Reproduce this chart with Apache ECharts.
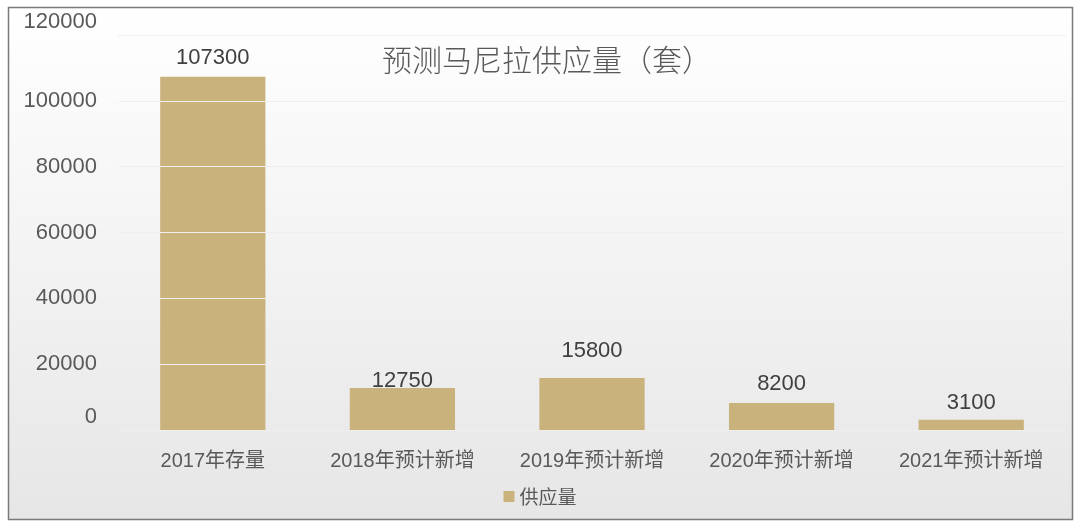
<!DOCTYPE html>
<html>
<head>
<meta charset="utf-8">
<script src="https://cdn.jsdelivr.net/npm/echarts@6/dist/echarts.min.js"></script>
<style>
html,body{margin:0;padding:0;background:#fff;}
#c{width:1080px;height:529px;}
</style>
</head>
<body>
<div id="c"></div>
<script>
const categories = ['2017年存量','2018年预计新增','2019年预计新增','2020年预计新增','2021年预计新增'];
const supplyValues = [107300, 12750, 15800, 8200, 3100];
const seriesName = '供应量';
const titleText = '预测马尼拉供应量（套）';
const yTicks = [0, 20000, 40000, 60000, 80000, 100000, 120000];

const labelShift = [0, 12, -8, 0, 2];

const chart = echarts.init(document.getElementById('c'));
chart.setOption({
  animation: false,
  backgroundColor: '#ffffff',
  graphic: [{
    type: 'rect',
    z: -10,
    silent: true,
    shape: {x: 8.5, y: 7.5, width: 1064, height: 512},
    style: {
      fill: new echarts.graphic.LinearGradient(0, 0, 0, 1, [
        {offset: 0, color: '#ffffff'},
        {offset: 1, color: '#e6e6e6'}
      ]),
      stroke: '#7a7a7a',
      lineWidth: 1.5
    }
  }],
  title: {
    text: titleText,
    left: 542, top: 40, textAlign: 'center',
    textStyle: {fontFamily: 'Noto Sans CJK SC', fontSize: 30, fontWeight: 300, color: '#595959'}
  },
  legend: {
    data: [seriesName],
    bottom: 18, left: 'center',
    itemWidth: 11, itemHeight: 11, itemGap: 4,
    icon: 'rect',
    textStyle: {fontFamily: 'Noto Sans CJK SC', fontSize: 19, color: '#595959'}
  },
  grid: {left: 118, right: 14, top: 35, bottom: 99, containLabel: false},
  xAxis: {
    type: 'category',
    data: categories,
    axisLine: {lineStyle: {color: '#bfbfbf', width: 1}},
    axisTick: {show: false},
    axisLabel: {fontFamily: 'Liberation Sans, Noto Sans CJK SC', fontSize: 20, color: '#595959', margin: 21}
  },
  yAxis: {
    type: 'value',
    min: yTicks[0], max: yTicks[yTicks.length - 1], interval: 20000,
    z: 5,
    axisLine: {show: false},
    axisTick: {show: false},
    splitLine: {lineStyle: {color: '#efefef', width: 1}},
    axisLabel: {
      fontFamily: 'Liberation Sans', fontSize: 22, color: '#595959', margin: 21,
      formatter: function (v) {
        return (v === yTicks[0] || v === yTicks[yTicks.length - 1]) ? '{e|' + v + '}' : String(v);
      },
      rich: {e: {fontFamily: 'Liberation Sans', fontSize: 22, color: '#595959', padding: [0, 0, 26, 0]}}
    }
  },
  series: [{
    name: seriesName,
    type: 'bar',
    barWidth: '55.5%',
    itemStyle: {color: '#c9b27b'},
    label: {
      show: true, position: 'top', distance: 8,
      fontFamily: 'Liberation Sans', fontSize: 22, color: '#404040'
    },
    data: supplyValues.map((v, i) => ({value: v, label: {offset: [0, labelShift[i]]}}))
  }]
});
</script>
</body>
</html>
